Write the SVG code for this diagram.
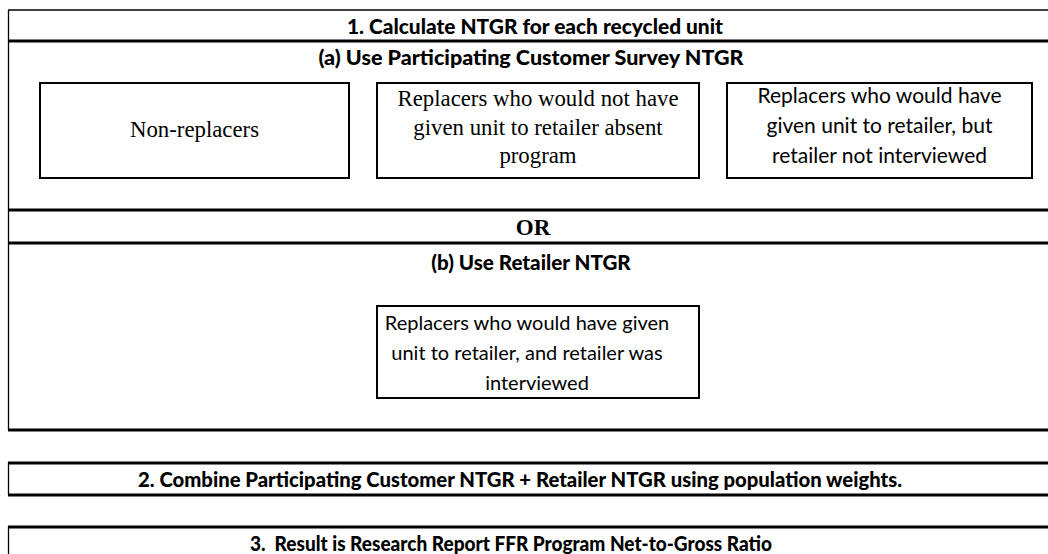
<svg xmlns="http://www.w3.org/2000/svg" width="1048" height="554" viewBox="0 0 1048 554">
<style>
.thick{stroke:#000;stroke-width:3;fill:none}
.thin{stroke:#000;stroke-width:1.3;fill:none}
.box{fill:#fff;stroke:#000;stroke-width:2}
.hd{font-family:Lato,"Liberation Sans",sans-serif;font-weight:900;font-size:20.6px;fill:#000;text-anchor:middle}
.sans{font-family:Lato,"Liberation Sans",sans-serif;font-size:21px;fill:#000;text-anchor:middle}
.serif{font-family:"Liberation Serif",serif;font-size:22.8px;fill:#000;text-anchor:middle}
.serifb{font-family:"Liberation Serif",serif;font-weight:bold;font-size:23px;fill:#000;text-anchor:middle}
</style>
<rect width="1048" height="554" fill="#fff"/>
<g id="frame">
<line class="thin" x1="8" y1="10" x2="1048" y2="10"/>
<line class="thin" x1="8.5" y1="10" x2="8.5" y2="430"/>
<line class="thin" x1="8.5" y1="463" x2="8.5" y2="495"/>
<line class="thin" x1="8.5" y1="527" x2="8.5" y2="554"/>
<line class="thick" x1="8" y1="41" x2="1048" y2="41"/>
<line class="thick" x1="8" y1="210" x2="1048" y2="210"/>
<line class="thick" x1="8" y1="243" x2="1048" y2="243"/>
<line class="thick" x1="8" y1="430" x2="1048" y2="430"/>
<line class="thick" x1="8" y1="463" x2="1048" y2="463"/>
<line class="thick" x1="8" y1="495" x2="1048" y2="495"/>
<line class="thick" x1="8" y1="527" x2="1048" y2="527"/>
</g>
<g id="step1"><text class="hd" x="535" y="34" textLength="376" lengthAdjust="spacingAndGlyphs">1. Calculate NTGR for each recycled unit</text></g>
<g id="step1a"><text class="hd" x="531" y="65" textLength="425" lengthAdjust="spacingAndGlyphs">(a) Use Participating Customer Survey NTGR</text></g>
<g id="nonreplacers">
<rect class="box" x="40" y="83" width="309" height="95"/>
<text class="serif" x="194.5" y="137">Non-replacers</text>
</g>
<g id="replacers-not-given">
<rect class="box" x="377" y="83" width="322" height="95"/>
<text class="serif" x="538" y="106">Replacers who would not have</text>
<text class="serif" x="538" y="135">given unit to retailer absent</text>
<text class="serif" x="538" y="163">program</text>
</g>
<g id="replacers-not-interviewed">
<rect class="box" x="727" y="83" width="305" height="95"/>
<text class="sans" x="879.5" y="103">Replacers who would have</text>
<text class="sans" x="879.5" y="133">given unit to retailer, but</text>
<text class="sans" x="879.5" y="163">retailer not interviewed</text>
</g>
<g id="or"><text class="serifb" x="533" y="235">OR</text></g>
<g id="step1b"><text class="hd" x="531" y="270">(b) Use Retailer NTGR</text></g>
<g id="replacers-interviewed">
<rect class="box" x="377" y="306" width="322" height="92"/>
<text class="sans" x="527" y="330" style="font-size:20px">Replacers who would have given</text>
<text class="sans" x="527" y="360" style="font-size:20px">unit to retailer, and retailer was</text>
<text class="sans" x="537" y="390" style="font-size:20px">interviewed</text>
</g>
<g id="step2"><text class="hd" x="520" y="487" textLength="764" lengthAdjust="spacingAndGlyphs">2. Combine Participating Customer NTGR + Retailer NTGR using population weights.</text></g>
<g id="step3"><text class="hd" x="511" y="551" xml:space="preserve" textLength="522" lengthAdjust="spacingAndGlyphs">3.  Result is Research Report FFR Program Net-to-Gross Ratio</text></g>
<g id="connectors"></g>
</svg>
